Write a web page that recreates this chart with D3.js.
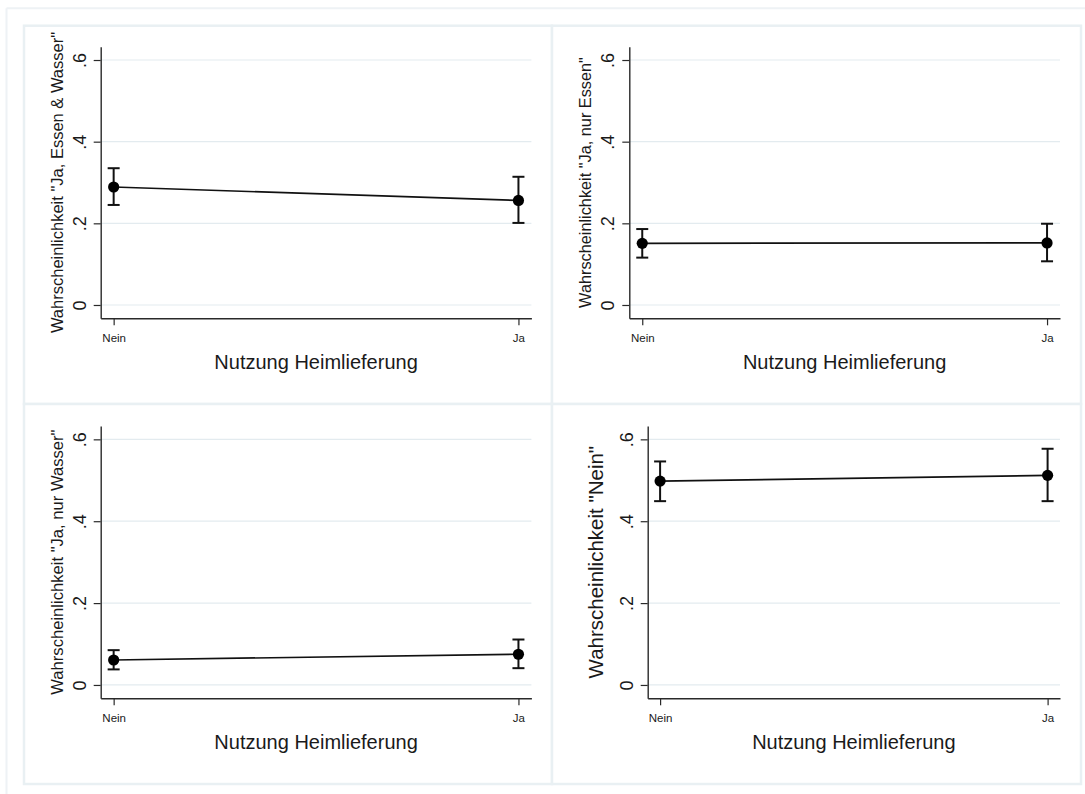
<!DOCTYPE html>
<html>
<head>
<meta charset="utf-8">
<script src="https://cdn.jsdelivr.net/npm/d3@7"></script>
<style>
  html, body { margin: 0; padding: 0; background: #ffffff; }
  svg { display: block; }
  text { font-family: "Liberation Sans", Arial, Helvetica, sans-serif; fill: #1a1a1a; }
</style>
</head>
<body>
<svg id="chart" width="1085" height="794"></svg>
<script>
// ---- data ----
const categories = ["Nein", "Ja"];
const xValues = [0, 1];
const xTitle = "Nutzung Heimlieferung";
const yTicks = [0, 0.2, 0.4, 0.6];
const yTickLabels = ["0", ".2", ".4", ".6"];

const titles = [
  'Wahrscheinlichkeit "Ja, Essen & Wasser"',
  'Wahrscheinlichkeit "Ja, nur Essen"',
  'Wahrscheinlichkeit "Ja, nur Wasser"',
  'Wahrscheinlichkeit "Nein"'
];

const estEssenWasser = [0.289, 0.256];
const lowEssenWasser = [0.245, 0.201];
const highEssenWasser = [0.335, 0.314];

const estNurEssen = [0.151, 0.152];
const lowNurEssen = [0.116, 0.107];
const highNurEssen = [0.186, 0.199];

const estNurWasser = [0.061, 0.075];
const lowNurWasser = [0.038, 0.041];
const highNurWasser = [0.085, 0.111];

const estNein = [0.498, 0.512];
const lowNein = [0.449, 0.449];
const highNein = [0.546, 0.577];

const seriesEst = [estEssenWasser, estNurEssen, estNurWasser, estNein];
const seriesLow = [lowEssenWasser, lowNurEssen, lowNurWasser, lowNein];
const seriesHigh = [highEssenWasser, highNurEssen, highNurWasser, highNein];

// ---- layout ----
const panels = [
  { box: [24, 25.7, 552, 404], L: 100.7, R: 531.4, T: 46.7, B: 318.3, tsize: 16.5, toff: 38 },
  { box: [552, 25.7, 1081, 404], L: 629.3, R: 1060, T: 46.7, B: 318.3, tsize: 16.3, toff: 38 },
  { box: [24, 404, 552, 784], L: 100.7, R: 531.4, T: 426, B: 698.3, tsize: 16.6, toff: 38 },
  { box: [552, 404, 1081, 784], L: 647.7, R: 1060, T: 426, B: 698.3, tsize: 20.5, toff: 44.5 }
];

const svg = d3.select("#chart");

// outer frame
svg.append("line").attr("x1", 6.5).attr("x2", 6.5).attr("y1", 8.3).attr("y2", 794)
  .attr("stroke", "#eef2f5").attr("stroke-width", 2);
svg.append("line").attr("x1", 6.5).attr("x2", 1085).attr("y1", 8.3).attr("y2", 8.3)
  .attr("stroke", "#eef2f5").attr("stroke-width", 2);

panels.forEach((p, i) => {
  const g = svg.append("g");
  const [x0, y0, x1, y1] = p.box;
  g.append("rect").attr("x", x0).attr("y", y0).attr("width", x1 - x0).attr("height", y1 - y0)
    .attr("fill", "#ffffff").attr("stroke", "#e9f0f3").attr("stroke-width", 2.5);

  const x = d3.scaleLinear().domain([-0.032, 1.032]).range([p.L, p.R]);
  const y = d3.scaleLinear().domain([-0.0326, 0.6326]).range([p.B, p.T]);

  // gridlines
  g.selectAll("line.grid").data(yTicks).enter().append("line")
    .attr("class", "grid")
    .attr("x1", p.L).attr("x2", p.R)
    .attr("y1", d => y(d)).attr("y2", d => y(d))
    .attr("stroke", "#e3ebef").attr("stroke-width", 1.2);

  // y axis
  const ya = g.append("g").attr("transform", `translate(${p.L},0)`)
    .call(d3.axisLeft(y).tickValues(yTicks).tickFormat((d, k) => yTickLabels[k])
      .tickSize(7).tickSizeOuter(0));
  ya.select(".domain").attr("stroke", "#2a2a2a").attr("stroke-width", 1.4);
  ya.selectAll(".tick line").attr("stroke", "#2a2a2a").attr("stroke-width", 1.2);
  ya.selectAll(".tick text")
    .attr("transform", "rotate(-90)")
    .attr("x", 0).attr("y", -15).attr("dy", 0)
    .attr("text-anchor", "middle")
    .style("font-size", "18px")
    .style("font-family", '"Liberation Sans", Arial, sans-serif')
    .attr("fill", "#1a1a1a");

  // x axis
  const xa = g.append("g").attr("transform", `translate(0,${p.B})`)
    .call(d3.axisBottom(x).tickValues(xValues).tickFormat((d, k) => categories[k])
      .tickSize(7).tickSizeOuter(0));
  xa.select(".domain").attr("stroke", "#2a2a2a").attr("stroke-width", 1.4);
  xa.selectAll(".tick line").attr("stroke", "#2a2a2a").attr("stroke-width", 1.2);
  xa.selectAll(".tick text")
    .attr("y", 24).attr("dy", 0)
    .style("font-size", "11.5px")
    .style("font-family", '"Liberation Sans", Arial, sans-serif')
    .attr("fill", "#222");

  // axis titles
  g.append("text")
    .attr("transform", `translate(${p.L - p.toff},${(p.T + p.B) / 2}) rotate(-90)`)
    .attr("text-anchor", "middle")
    .style("font-size", p.tsize + "px")
    .text(titles[i]);
  g.append("text")
    .attr("x", (p.L + p.R) / 2).attr("y", p.B + 51)
    .attr("text-anchor", "middle")
    .style("font-size", "20px")
    .text(xTitle);

  const est = seriesEst[i], lo = seriesLow[i], hi = seriesHigh[i];
  const pts = xValues.map((xv, k) => ({ x: xv, e: est[k], lo: lo[k], hi: hi[k] }));

  // error bars
  const eb = g.selectAll("g.eb").data(pts).enter().append("g").attr("class", "eb");
  eb.append("line").attr("x1", d => x(d.x)).attr("x2", d => x(d.x))
    .attr("y1", d => y(d.lo)).attr("y2", d => y(d.hi))
    .attr("stroke", "#111").attr("stroke-width", 2);
  eb.append("line").attr("x1", d => x(d.x) - 6).attr("x2", d => x(d.x) + 6)
    .attr("y1", d => y(d.lo)).attr("y2", d => y(d.lo))
    .attr("stroke", "#111").attr("stroke-width", 2);
  eb.append("line").attr("x1", d => x(d.x) - 6).attr("x2", d => x(d.x) + 6)
    .attr("y1", d => y(d.hi)).attr("y2", d => y(d.hi))
    .attr("stroke", "#111").attr("stroke-width", 2);

  // connecting line
  g.append("path").datum(pts)
    .attr("d", d3.line().x(d => x(d.x)).y(d => y(d.e)))
    .attr("fill", "none").attr("stroke", "#111").attr("stroke-width", 1.7);

  // markers
  g.selectAll("circle.pt").data(pts).enter().append("circle")
    .attr("class", "pt")
    .attr("cx", d => x(d.x)).attr("cy", d => y(d.e)).attr("r", 5.6)
    .attr("fill", "#000");
});
</script>
</body>
</html>
